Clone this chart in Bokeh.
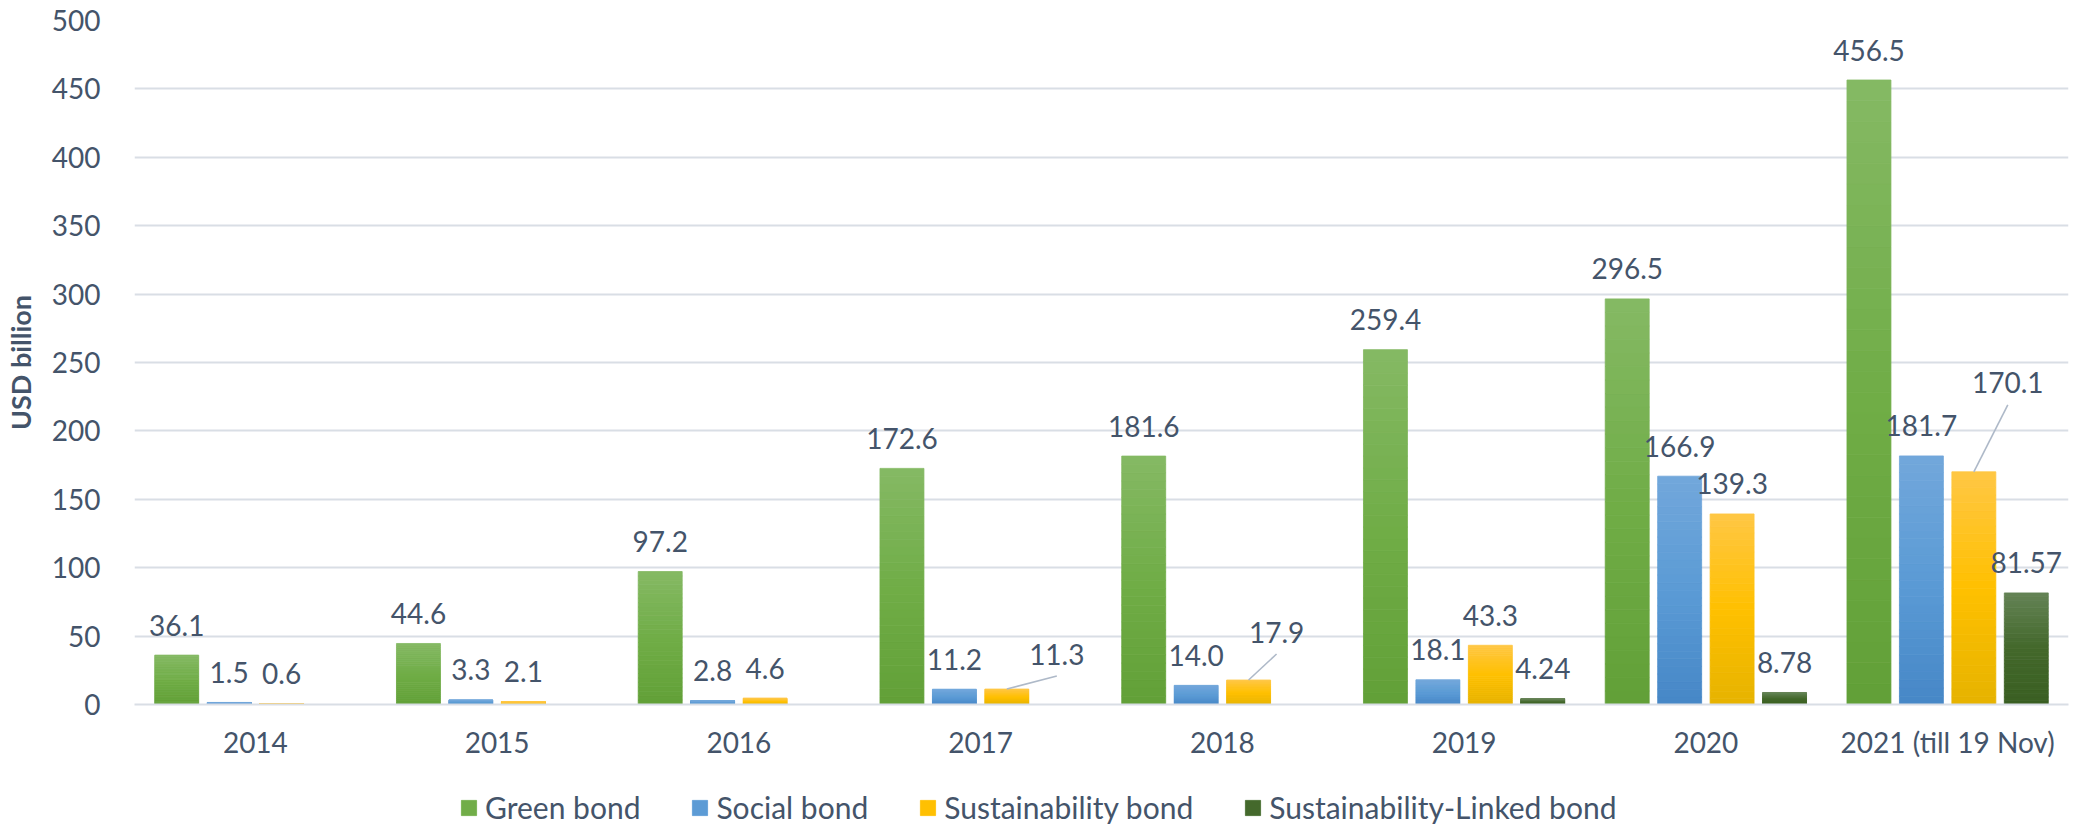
import numpy as np
from bokeh.plotting import figure
from bokeh.layouts import column
from bokeh.models import ColumnDataSource, Range1d, FixedTicker, Legend, LegendItem
from bokeh.embed import file_html
from bokeh.resources import INLINE
from bokeh.core.properties import value

# ---------------- data ----------------
years = ["2014", "2015", "2016", "2017", "2018", "2019", "2020", "2021 (till 19 Nov)"]
green_bond = [36.1, 44.6, 97.2, 172.6, 181.6, 259.4, 296.5, 456.5]
social_bond = [1.5, 3.3, 2.8, 11.2, 14.0, 18.1, 166.9, 181.7]
sustainability_bond = [0.6, 2.1, 4.6, 11.3, 17.9, 43.3, 139.3, 170.1]
sustainability_linked_bond = [None, None, None, None, None, 4.24, 8.78, 81.57]
series_names = ["Green bond", "Social bond", "Sustainability bond", "Sustainability-Linked bond"]
y_ticks = [0, 50, 100, 150, 200, 250, 300, 350, 400, 450, 500]

# ---------------- style ----------------
FONT = "Lato"
TXT = "#44546a"
GRID = "#d9dee5"
W = 2073
H_MAIN, H_LEG = 770, 55
LEFT, RIGHT, TOP, BOTTOM = 132, 5, 20, 66
FRAME_W = W - LEFT - RIGHT
FRAME_H = H_MAIN - TOP - BOTTOM
PX_X = FRAME_W / 8.0      # px per category unit
PX_Y = FRAME_H / 500.0    # px per value unit

# gradient (top, middle, bottom)
grads = [
    ("#85b964", "#70ad47", "#62a037"),
    ("#72a7db", "#5b9bd5", "#4687c7"),
    ("#ffc745", "#ffc000", "#e6b300"),
    ("#648355", "#43682b", "#3a5f22"),
]
decimals = [1, 1, 1, 2]
bar_w = 44 / PX_X
step = 52.5 / PX_X
# label offsets (px, relative to bar top centre) for the few shifted labels
special = {(2, 3): (50, -35), (2, 4): (28, -48), (2, 7): (34, -89)}
LEADER_GAP = 22
leader_color = "#aeb9c8"

p = figure(width=W, height=H_MAIN, output_backend="svg", toolbar_location=None,
           x_range=Range1d(0, 8), y_range=Range1d(0, 500),
           min_border_left=LEFT, min_border_right=RIGHT,
           min_border_top=TOP, min_border_bottom=BOTTOM)
p.outline_line_color = None
p.background_fill_color = "white"
p.border_fill_color = "white"

# legend strip (separate figure so the legend is not clipped by the frame)
pl = figure(width=W, height=H_LEG, output_backend="svg", toolbar_location=None,
            x_range=Range1d(0, 1), y_range=Range1d(0, 1),
            min_border_left=0, min_border_right=0, min_border_top=0, min_border_bottom=0,
            x_axis_location=None, y_axis_location=None)
pl.outline_line_color = None
pl.xgrid.visible = False
pl.ygrid.visible = False
pl.background_fill_color = "white"
pl.border_fill_color = "white"

def hex2rgb(h):
    h = h.lstrip("#")
    return np.array([int(h[i:i + 2], 16) for i in (0, 2, 4)], dtype=float)

def grad_color(t, top, mid, bot):
    # t: 0 bottom -> 1 top
    a, b, c = hex2rgb(bot), hex2rgb(mid), hex2rgb(top)
    if t < 0.5:
        col = a + (b - a) * (t / 0.5)
    else:
        col = b + (c - b) * ((t - 0.5) / 0.5)
    return "#%02x%02x%02x" % tuple(int(round(v)) for v in col)

all_series = [green_bond, social_bond, sustainability_bond, sustainability_linked_bond]
NB = 30
legend_items = []
for k, vals in enumerate(all_series):
    off = (k - 1.5) * step
    xs, bots, tops, cols = [], [], [], []
    for i, v in enumerate(vals):
        if v is None:
            continue
        for b in range(NB):
            xs.append(i + 0.5 + off)
            bots.append(v * b / NB)
            tops.append(v * (b + 1) / NB)
            cols.append(grad_color((b + 0.5) / NB, *grads[k]))
    src = ColumnDataSource(dict(x=xs, bottom=bots, top=tops, color=cols))
    p.vbar(x="x", width=bar_w, bottom="bottom", top="top", source=src,
           fill_color="color", line_color="color", line_width=0.8)
    rl = pl.vbar(x="x", width=bar_w, bottom="bottom", top="top", source=src,
                 fill_color="color", line_color="color", line_width=0.8, visible=False)
    legend_items.append(LegendItem(label=series_names[k], renderers=[rl], index=NB // 2))

    # data labels
    lx, ly, lt = [], [], []
    for i, v in enumerate(vals):
        if v is None:
            continue
        bx = i + 0.5 + off
        dx, dy = special.get((k, i), (0, -30))
        lx.append(bx + dx / PX_X)
        ly.append(v - dy / PX_Y)
        lt.append(f"{v:.{decimals[k]}f}")
        if (k, i) in special:
            p.segment(x0=[bx], y0=[v], x1=[bx + dx / PX_X], y1=[v - (dy + LEADER_GAP) / PX_Y],
                      line_color=leader_color, line_width=1.6)
    p.text(x=lx, y=ly, text=lt, text_font=value(FONT), text_font_size="28px",
           text_color=TXT, text_align="center", text_baseline="middle")

# grid
p.xgrid.visible = False
p.ygrid.ticker = FixedTicker(ticks=y_ticks)
p.ygrid.grid_line_color = GRID
p.ygrid.grid_line_width = 2

# axes
p.yaxis.ticker = FixedTicker(ticks=y_ticks)
p.yaxis.axis_line_color = None
p.yaxis.major_tick_line_color = None
p.yaxis.minor_tick_line_color = None
p.yaxis.major_label_text_font = FONT
p.yaxis.major_label_text_font_size = "28px"
p.yaxis.major_label_text_color = TXT
p.yaxis.major_label_standoff = 28
p.yaxis.axis_label = "USD billion"
p.yaxis.axis_label_text_font = FONT
p.yaxis.axis_label_text_font_style = "bold"
p.yaxis.axis_label_text_font_size = "27px"
p.yaxis.axis_label_text_color = TXT
p.yaxis.axis_label_standoff = 12

p.xaxis.ticker = FixedTicker(ticks=[i + 0.5 for i in range(len(years))])
p.xaxis.major_label_overrides = {i + 0.5: y for i, y in enumerate(years)}
p.xaxis.axis_line_color = GRID
p.xaxis.axis_line_width = 2
p.xaxis.major_tick_line_color = None
p.xaxis.minor_tick_line_color = None
p.xaxis.major_label_text_font = FONT
p.xaxis.major_label_text_font_size = "28px"
p.xaxis.major_label_text_color = TXT
p.xaxis.major_label_standoff = 14

legend = Legend(items=legend_items, orientation="horizontal", location=(325, 0),
                padding=0, margin=0, spacing=50, label_standoff=7,
                glyph_width=19, glyph_height=19,
                label_text_font=FONT, label_text_font_size="30px", label_text_color=TXT,
                border_line_color=None, background_fill_alpha=0)
pl.add_layout(legend, "center")

layout = column(p, pl, spacing=0)
open("out.html", "w").write(file_html(layout, INLINE))
